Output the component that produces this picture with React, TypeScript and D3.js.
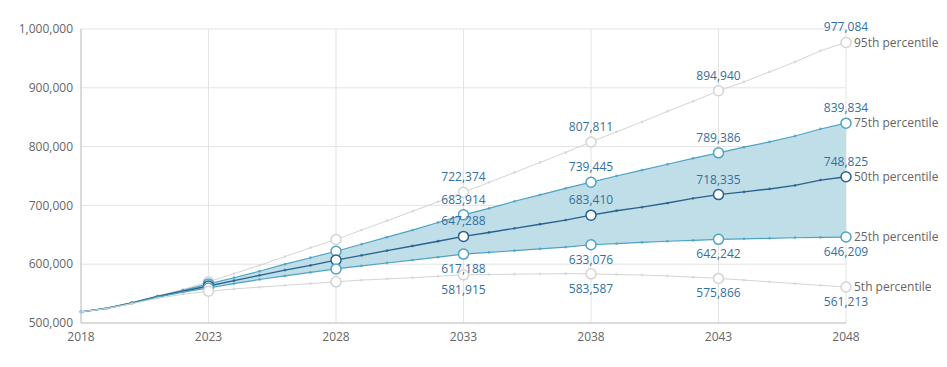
import React from 'react';
import * as d3 from 'd3';

const years = d3.range(2018, 2049);

const p95 = [519000, 525000, 535000, 546000, 557000, 570000, 584000, 598000, 613000, 628000, 642000, 658000, 674000, 690000, 706000, 722374, 739000, 756000, 773000, 790000, 807811, 825000, 842000, 860000, 877000, 894940, 910000, 927000, 944000, 963000, 977084];
const p75 = [519000, 525000, 534500, 545500, 555500, 566500, 577000, 588000, 600000, 611000, 622000, 634000, 646000, 658000, 671000, 683914, 695000, 707000, 718000, 729000, 739445, 750000, 760000, 770000, 780000, 789386, 799000, 808000, 818000, 830000, 839834];
const p50 = [519000, 525000, 534000, 545000, 554000, 563000, 572000, 581000, 590000, 598000, 607000, 615000, 623000, 631000, 639000, 647288, 654000, 661000, 668000, 675000, 683410, 691000, 697000, 704000, 712000, 718335, 723000, 728000, 734000, 743000, 748825];
const p25 = [519000, 525000, 533500, 544000, 552500, 559500, 567000, 574000, 580000, 586000, 592000, 597000, 602000, 607000, 612000, 617188, 620000, 623000, 626000, 629000, 633076, 635000, 637000, 639000, 640500, 642242, 643000, 644000, 645000, 645500, 646209];
const p5 = [519000, 524500, 533000, 542000, 549000, 554000, 558000, 561000, 564000, 567000, 570000, 573000, 575000, 577000, 579500, 581915, 582500, 583000, 583500, 584000, 583587, 582500, 581500, 580000, 578000, 575866, 573000, 570000, 567000, 564000, 561213];

const seriesNames = ['95th percentile', '75th percentile', '50th percentile', '25th percentile', '5th percentile'];
const xTicks = [2018, 2023, 2028, 2033, 2038, 2043, 2048];
const yTicks = [500000, 600000, 700000, 800000, 900000, 1000000];
const labelYears = [2033, 2038, 2043, 2048];

const W = 947;
const H = 367;
const margin = { top: 29, right: 101, bottom: 44, left: 81 };

const gray = '#d4d4d4';
const teal = '#4da3c4';
const dark = '#28628e';
const labelColor = '#34709f';
const font = '"Open Sans", sans-serif';

export default function App() {
  const x = d3.scaleLinear().domain([2018, 2048]).range([margin.left, W - margin.right]);
  const y = d3.scaleLinear().domain([500000, 1000000]).range([H - margin.bottom, margin.top]);
  const fmt = d3.format(',');

  const line = d3.line<number>().x((_, i) => x(years[i])).y(d => y(d));
  const band = d3
    .area<number>()
    .x((_, i) => x(years[i]))
    .y0((_, i) => y(p25[i]))
    .y1(d => y(d));

  const series = [
    { name: seriesNames[0], data: p95, color: gray, width: 1, above: true },
    { name: seriesNames[1], data: p75, color: teal, width: 1.2, above: true },
    { name: seriesNames[2], data: p50, color: dark, width: 1.4, above: true },
    { name: seriesNames[3], data: p25, color: teal, width: 1.2, above: false },
    { name: seriesNames[4], data: p5, color: gray, width: 1, above: false },
  ];

  const isBig = (yr: number) => (yr - 2018) % 5 === 0 && yr !== 2018;

  return (
    <svg width={W} height={H} style={{ position: 'absolute', left: 0, top: 0, fontFamily: font }}>
      {/* grid */}
      {yTicks.map(t => (
        <line key={'gy' + t} x1={margin.left} x2={W - margin.right} y1={y(t)} y2={y(t)} stroke="#e3e3e3" />
      ))}
      {xTicks.map(t => (
        <line key={'gx' + t} x1={x(t)} x2={x(t)} y1={margin.top} y2={H - margin.bottom} stroke="#e3e3e3" />
      ))}
      <line x1={margin.left} x2={margin.left} y1={margin.top} y2={H - margin.bottom} stroke="#c4c4c4" />
      <line x1={margin.left} x2={W - margin.right} y1={H - margin.bottom} y2={H - margin.bottom} stroke="#c4c4c4" />

      {yTicks.map(t => (
        <text key={'ty' + t} x={margin.left - 8} y={y(t)} dy="0.35em" textAnchor="end" fontSize={12} fill="#666">
          {fmt(t)}
        </text>
      ))}
      {xTicks.map(t => (
        <text key={'tx' + t} x={x(t)} y={H - margin.bottom + 18} textAnchor="middle" fontSize={12} fill="#666">
          {t}
        </text>
      ))}

      <path d={band(p75) ?? ''} fill="#c0dee8" />

      {series.map(s => (
        <g key={s.name}>
          <path d={line(s.data) ?? ''} fill="none" stroke={s.color} strokeWidth={s.width} />
          {s.data.map((v, i) =>
            isBig(years[i]) ? null : (
              <circle key={i} cx={x(years[i])} cy={y(v)} r={1.4} fill={s.color} opacity={0.75} />
            )
          )}
        </g>
      ))}

      {series.map(s => (
        <g key={'c' + s.name}>
          {s.data.map((v, i) =>
            isBig(years[i]) ? (
              <circle key={i} cx={x(years[i])} cy={y(v)} r={5} fill="#fff" stroke={s.color} strokeWidth={1.5} />
            ) : null
          )}
        </g>
      ))}

      {series.map(s => (
        <g key={'l' + s.name}>
          {labelYears.map(yr => {
            const v = s.data[yr - 2018];
            return (
              <text
                key={yr}
                x={x(yr)}
                y={y(v) + (s.above ? -11 : 19)}
                textAnchor="middle"
                fontSize={12}
                fill={labelColor}
              >
                {fmt(v)}
              </text>
            );
          })}
          <text x={x(2048) + 8} y={y(s.data[30])} dy="0.35em" fontSize={12} fill="#666">
            {s.name}
          </text>
        </g>
      ))}
    </svg>
  );
}
